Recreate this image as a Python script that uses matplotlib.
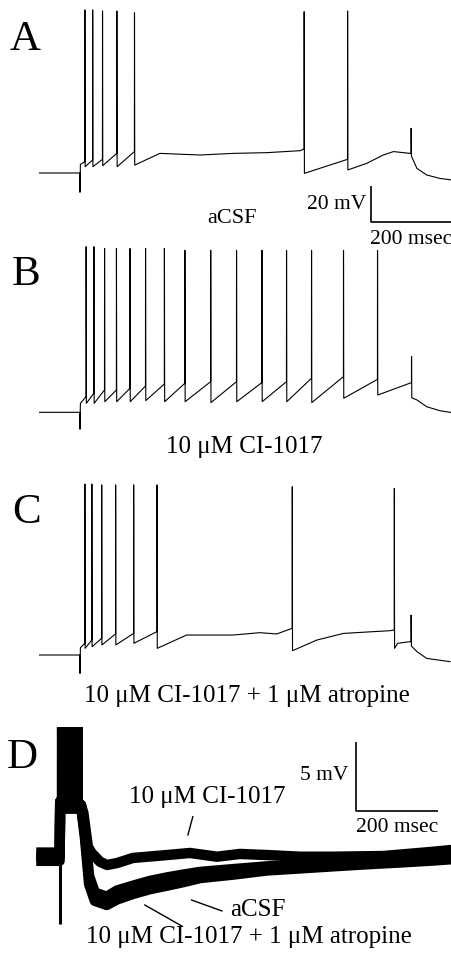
import matplotlib
matplotlib.use('Agg')
import matplotlib.pyplot as plt

plt.rcParams['font.family'] = ['Liberation Serif', 'DejaVu Serif']

# ---- panel A: aCSF (ms, mV)
spk_a = [112, 131, 155, 190, 233, 647, 753, 908]
pre_a = [-53.7, -52.8, -52.4, -49.1, -48.1, -46.7, -52.4, -49.1]
post_a = [-56.5, -56.5, -55.9, -56.5, -55.6, -60.2, -58.3, -50.5]
peak_a = [30.6, 30.6, 30, 30, 29, 29.6, 30, -35.2]
shape_a_t = [0, 99.5, 100, 101, 295, 393, 474, 556, 637, 800, 840, 865, 905, 922, 946, 978, 1008]
shape_a_v = [-60, -60, -70.7, -55.2, -49.1, -50, -49.1, -48.7, -47.6, -54.6, -50, -48.1, -49.1, -57.4, -61.1, -63, -63.9]

# ---- panel B: 10 uM CI-1017
spk_b = [115, 134, 160, 189, 222, 260, 306, 356, 419, 482, 544, 604, 665, 743, 826, 909]
pre_b = [-51.3, -49.4, -47.6, -47.6, -46.7, -45.4, -44.3, -43.9, -43, -43, -43.5, -43, -41.1, -40.2, -41.7, -43.5]
post_b = [-55, -55, -54.1, -54.1, -54.1, -53.5, -54.1, -54.1, -54.6, -54.1, -54.1, -54.1, -54.6, -52.2, -50.4, -52]
peak_b = [32, 32, 31, 31, 31, 31, 31, 30, 30, 30, 30, 30, 30, 30, 30, -29]
shape_b_t = [0, 99.5, 100, 101, 922, 946, 978, 1008]
shape_b_v = [-60, -60, -69.4, -55, -53.1, -56.9, -59.1, -60.2]

# ---- panel C: 10 uM CI-1017 + 1 uM atropine
spk_c = [112, 129, 153, 187, 231, 288, 618, 867, 908]
pre_c = [-53.5, -51.7, -50.7, -48.3, -48, -47, -45.2, -46.1, -52.6]
post_c = [-56.3, -55.4, -54.4, -54.4, -53.5, -56.3, -57.6, -56.3, -55]
peak_c = [35, 35, 34.5, 34.5, 34.5, 34.5, 33.5, 32.6, -37.8]
shape_c_t = [0, 99.5, 100, 101, 360, 474, 539, 580, 678, 743, 856, 875, 905, 922, 946, 1003]
shape_c_v = [-60, -60, -70.2, -56, -48.9, -48.9, -47.6, -48.3, -51.7, -48, -46.5, -53.5, -52.6, -58.1, -61.9, -63.7]

# ---- panel D: overlaid traces (ms from burst onset, mV from baseline)
artifact_d = -4.9
burst_ci = [6, 14, 22, 30, 38]
burst_acsf = [5, 12, 20, 28, 36, 42]
burst_atr = [8, 16, 25, 33, 41]
d_ci_t = [-58, -1, 0.5, 51, 57, 68, 77, 98, 115, 139, 178, 261, 317, 383, 439, 505, 586, 667, 789, 911, 957]
d_ci_v = [0.3, 0.3, 4, 3.75, 3.17, 0.72, 0.27, -0.38, -0.6, -0.46, -0.09, 0.12, 0.27, 0, 0.2, 0.12, 0, 0, 0.05, 0.36, 0.49]
d_t = [-58, -1, 0.5, 51, 61, 71, 85, 114, 139, 178, 220, 261, 300, 342, 422, 505, 586, 666, 749, 830, 910, 957]
d_acsf_v = [0, 0, 4, 3.75, 1.6, -1.4, -2.6, -2.9, -2.45, -2.1, -1.75, -1.5, -1.3, -1.1, -0.9, -0.7, -0.6, -0.5, -0.4, -0.3, -0.2, -0.05]
d_atr_v = [-0.3, -0.3, 4, 3.75, 1.3, -2.0, -3.2, -3.5, -3.1, -2.7, -2.35, -2.1, -1.85, -1.55, -1.3, -1.0, -0.85, -0.7, -0.55, -0.42, -0.28, -0.18]

W, H = 452, 963
MS_PX = 2.44

fig = plt.figure(figsize=(W / 100, H / 100), dpi=100)


def add_panel(left, top, bottom, t0, base_px, base_v, mv_px):
    ax = fig.add_axes([left / W, 1 - bottom / H, (W - left) / W, (bottom - top) / H])
    ax.set_xlim(t0, t0 + (W - left) * MS_PX)
    ax.set_ylim(base_v - (bottom - base_px) / mv_px, base_v + (base_px - top) / mv_px)
    ax.axis('off')
    return ax


def trace(shape_t, shape_v, spk, pre, post, peak):
    pts = list(zip(shape_t, shape_v))
    for ts, a, b, p in zip(spk, pre, post, peak):
        pts += [(ts - 0.2, a), (ts, p), (ts + 0.6, b)]
    pts.sort()
    return [p[0] for p in pts], [p[1] for p in pts]


def letter(s, x, y):
    fig.text(x / W, 1 - y / H, s, fontsize=31, ha='left', va='baseline')


axA = add_panel(39, 0, 240, 0, 173, -60, 1.8)
axB = add_panel(39, 240, 480, 0, 412.3, -60, 1.8)
axC = add_panel(39, 480, 720, 0, 655, -60, 1.8)
axD = add_panel(36, 726.7, 963, -58.6, 856.7, 0, 13.8)

for ax, data in [(axA, (shape_a_t, shape_a_v, spk_a, pre_a, post_a, peak_a)),
                 (axB, (shape_b_t, shape_b_v, spk_b, pre_b, post_b, peak_b)),
                 (axC, (shape_c_t, shape_c_v, spk_c, pre_c, post_c, peak_c))]:
    t, v = trace(*data)
    ax.plot(t, v, color='black', lw=0.8)

# scale bar A
axA.plot([809, 809, 1009], [-67, -87, -87], color='black', lw=1.2, clip_on=False, solid_capstyle='butt')
axA.text(798, -80, '20 mV', fontsize=15.5, ha='right', va='baseline')
axA.text(808, -99.4, '200 msec', fontsize=15.5, ha='left', va='baseline')
axA.text(471, -87.6, 'aCSF', fontsize=16, ha='center', va='baseline')

axB.text(501, -82.8, '10 \u03bcM CI-1017', fontsize=18, ha='center', va='baseline')
axC.text(507, -85.9, '10 \u03bcM CI-1017 + 1 \u03bcM atropine', fontsize=18, ha='center', va='baseline')

# panel D traces (thick lines stand in for the noisy bands)
for tt, vv, burst in [(d_t, d_acsf_v, burst_acsf), (d_t, d_atr_v, burst_atr),
                      (d_ci_t, d_ci_v, burst_ci)]:
    n = len(burst)
    t, v = trace(tt, vv, burst, [4] * n, [3.5] * n, [15] * n)
    axD.plot(t, v, color='black', lw=7.5, solid_joinstyle='round', solid_capstyle='butt')
# stimulus artifact at burst onset
axD.plot([-0.5, -0.5], [0, artifact_d], color='black', lw=2.2, solid_capstyle='butt')

axD.plot([722, 722, 922], [8.33, 3.33, 3.33], color='black', lw=1.2, clip_on=False, solid_capstyle='butt')
axD.text(703, 5.55, '5 mV', fontsize=15.5, ha='right', va='baseline')
axD.text(822, 1.81, '200 msec', fontsize=15.5, ha='center', va='baseline')
axD.text(360, 3.87, '10 \u03bcM CI-1017', fontsize=18, ha='center', va='baseline')
axD.text(483, -4.3, 'aCSF', fontsize=18, ha='center', va='baseline')
axD.text(461, -6.23, '10 \u03bcM CI-1017 + 1 \u03bcM atropine', fontsize=18, ha='center', va='baseline')
axD.plot([324, 312], [2.9, 1.57], color='black', lw=1)
axD.plot([321, 395], [-3.14, -3.93], color='black', lw=1)
axD.plot([207, 297], [-3.5, -5.02], color='black', lw=1)

letter('A', 10, 50)
letter('B', 12, 285)
letter('C', 12, 523)
letter('D', 7, 768)

fig.savefig('out.png', dpi=100)
